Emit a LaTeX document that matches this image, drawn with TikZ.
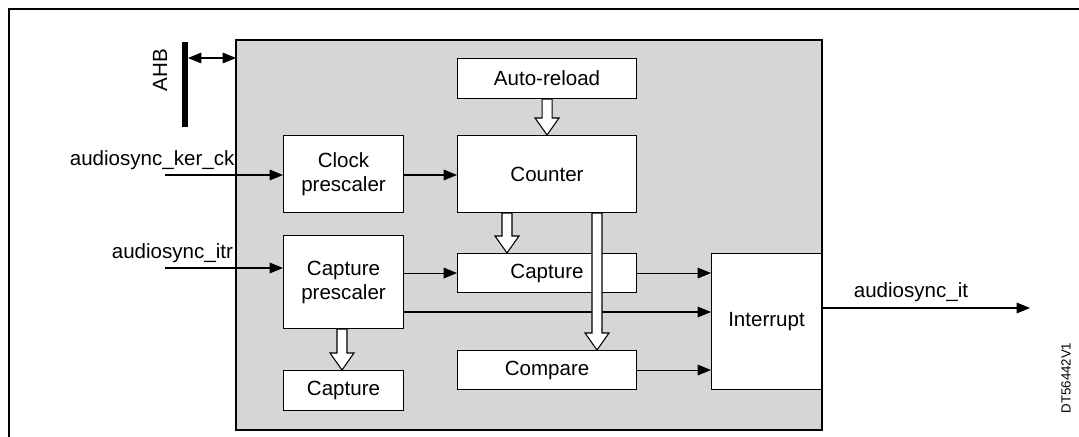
\documentclass[tikz,border=0pt]{standalone}
\usepackage{fontspec}
\setmainfont{Liberation Sans}
\usetikzlibrary{arrows.meta,calc}

\newcommand\hollowarr[2]{%
  \filldraw[fill=white,draw=black,line width=0.8pt]
    ($(#1)+(-5,0)$) -- ($(#2)+(-5,-17)$) -- ($(#2)+(-12,-17)$) -- (#2)
    -- ($(#2)+(12,-17)$) -- ($(#2)+(5,-17)$) -- ($(#1)+(5,0)$) -- cycle;}

\begin{document}
\begin{tikzpicture}[x=0.0265cm,y=-0.0265cm,line width=0.8pt,
  font=\fontsize{15.5}{18}\selectfont,
  >={Triangle[length=10pt,width=8pt]},
  block/.style={draw,fill=white,align=center,anchor=north west,inner sep=0pt},
  sig/.style={->}]
\useasboundingbox (0,0) rectangle (1079,437);
\draw[line width=1.5pt] (8,9) -- (1090,9);
\draw[line width=1.2pt] (9,9) -- (9,450);
\draw[fill=black!16] (236,40) rectangle (822,430);

% blocks
\node[block,minimum width=179*0.0265cm,minimum height=40*0.0265cm] (reload) at (457,58) {Auto-reload};
\node[block,minimum width=179*0.0265cm,minimum height=77*0.0265cm] (counter) at (457,135) {Counter};
\node[block,minimum width=120*0.0265cm,minimum height=77*0.0265cm] (clkpre) at (283,135) {Clock\\prescaler};
\node[block,minimum width=120*0.0265cm,minimum height=93*0.0265cm] (cappre) at (283,235) {Capture\\prescaler};
\node[block,minimum width=179*0.0265cm,minimum height=39*0.0265cm] (capture) at (457,253) {Capture};
\node[block,minimum width=179*0.0265cm,minimum height=39*0.0265cm] (compare) at (457,350) {Compare};
\node[block,minimum width=120*0.0265cm,minimum height=40*0.0265cm] (capout) at (283,370) {Capture};
\node[block,minimum width=110*0.0265cm,minimum height=136*0.0265cm] (irq) at (711,253) {Interrupt};

% AHB
\coordinate (ahbtop) at (185,42);
\coordinate (ahbbot) at (185,127);
\draw[line width=4.5pt] (ahbtop) -- (ahbbot);
\node[rotate=90] (ahb) at (160,70) {AHB};
\draw[<->] (188,58) -- (236,58);

% signals
\coordinate (kerin) at (165,175);
\coordinate (itrin) at (165,268);
\coordinate (itout) at (1030,308);
\node[anchor=south west,inner sep=1pt] (kerlbl) at (68,172) {audiosync\_ker\_ck};
\node[anchor=south west,inner sep=1pt] (itrlbl) at (110,265) {audiosync\_itr};
\node[anchor=south west,inner sep=1pt] (itlbl) at (852,304) {audiosync\_it};
\node[rotate=90,font=\fontsize{10}{11}\selectfont] (dt) at (1066,378) {DT56442V1};

\draw[sig] (kerin) -- (kerin -| clkpre.west);
\draw[sig] (itrin) -- (itrin -| cappre.west);
\draw[sig] (clkpre.east |- 0,175) -- (counter.west |- 0,175);
\draw[sig] (cappre.east |- capture.west) -- (capture.west);
\draw[sig] (capture.east) -- (irq.west |- capture.east);
\draw[sig] (cappre.east |- 0,312) -- (irq.west |- 0,312);
\draw[sig] (compare.east) -- (irq.west |- compare.east);
\draw[sig] (irq.east |- itout) -- (itout);

% hollow arrows
\hollowarr{reload.south}{counter.north}
\hollowarr{$(counter.south west)+(50,0)$}{$(capture.north west)+(50,0)$}
\hollowarr{$(cappre.south west)+(59,0)$}{$(capout.north west)+(59,0)$}
\hollowarr{$(counter.south west)+(140,0)$}{$(compare.north west)+(140,0)$}
\end{tikzpicture}
\end{document}
